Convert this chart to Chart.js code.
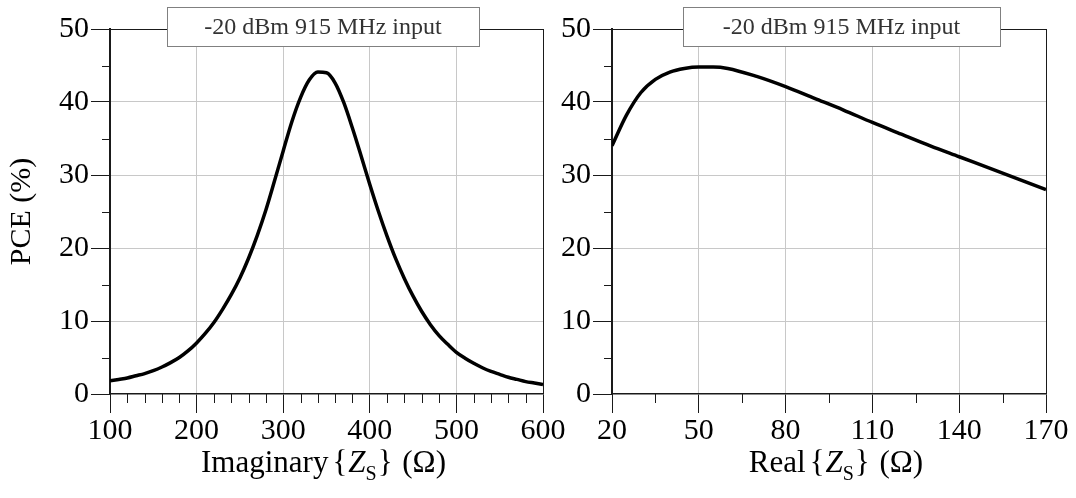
<!DOCTYPE html>
<html>
<head>
<meta charset="utf-8">
<script src="https://cdn.jsdelivr.net/npm/chart.js@4.4.1/dist/chart.umd.min.js"></script>
<style>
  html, body { margin: 0; padding: 0; background: #fff; }
  body { width: 1076px; height: 498px; position: relative; overflow: hidden; }
  canvas { position: absolute; top: 0; }
</style>
</head>
<body>
<canvas id="left" width="580" height="498" style="left:0px"></canvas>
<canvas id="right" width="516" height="498" style="left:560px"></canvas>
<script>
// ---------------- DATA ----------------
const imagX = [100,110,120,130,140,150,160,170,180,190,200,210,220,230,240,250,260,270,280,290,300,310,320,330,340,350,360,370,380,390,400,410,420,430,440,450,460,470,480,490,500,510,520,530,540,550,560,570,580,590,600];
const imagPCE = [1.8,2.0,2.2,2.5,2.8,3.2,3.7,4.3,5.0,5.9,7.0,8.3,9.8,11.6,13.6,15.9,18.6,21.7,25.2,29.2,33.3,37.3,40.6,43.0,44.1,44.0,42.6,39.9,36.4,32.6,28.7,25.0,21.6,18.5,15.8,13.4,11.3,9.5,8.0,6.8,5.7,4.9,4.2,3.6,3.1,2.7,2.3,2.0,1.7,1.5,1.3];

const realX = [20,25,30,35,40,45,50,55,60,70,80,90,100,110,120,130,140,150,160,170];
const realPCE = [34.0,38.2,41.3,43.1,44.1,44.6,44.8,44.8,44.6,43.5,42.1,40.5,38.9,37.2,35.6,34.0,32.5,31.0,29.5,28.0];

const yTicks = [0,10,20,30,40,50];
const imagTicks = [100,200,300,400,500,600];
const realTicks = [20,50,80,110,140,170];
const imagMinor = [120,140,160,180,220,240,260,280,320,340,360,380,420,440,460,480,520,540,560,580];
const realMinor = [35,65,95,125,155];
const yMinor = [5,15,25,35,45];

const boxTitle = '-20 dBm 915 MHz input';
const yTitle = 'PCE (%)';
const leftXTitle = ['Imaginary', 'Z', 'S', ' (Ω)'];
const rightXTitle = ['Real', 'Z', 'S', ' (Ω)'];

// ---------------- STYLE ----------------
const FONT = 'Liberation Serif';
const DARK = '#1a1a1a';
const GRID = '#c8c8c8';

function makeChart(canvasId, xs, ys, xTicks, minorX, xTitleParts, opts) {
  const xmin = xTicks[0], xmax = xTicks[xTicks.length - 1];
  const ymin = yTicks[0], ymax = yTicks[yTicks.length - 1];
  const step = xTicks[1] - xTicks[0];

  const decor = {
    id: 'decor',
    afterDraw(chart) {
      const ctx = chart.ctx;
      const xs_ = chart.scales.x, ys_ = chart.scales.y;
      const a = chart.chartArea;
      ctx.save();
      // minor ticks
      ctx.strokeStyle = DARK;
      ctx.lineWidth = 1;
      ctx.beginPath();
      yMinor.forEach(v => {
        const py = Math.round(ys_.getPixelForValue(v)) + 0.5;
        ctx.moveTo(a.left - 8, py); ctx.lineTo(a.left, py);
      });
      minorX.forEach(v => {
        const px = Math.round(xs_.getPixelForValue(v)) + 0.5;
        ctx.moveTo(px, a.bottom); ctx.lineTo(px, a.bottom + 9);
      });
      ctx.stroke();

      // title box
      const bx = opts.boxLeft, bw = opts.boxWidth, by = 7.5, bh = 39;
      ctx.fillStyle = '#fff';
      ctx.fillRect(bx, by, bw, bh);
      ctx.strokeStyle = '#808080';
      ctx.lineWidth = 1;
      ctx.strokeRect(bx + 0.5, by, bw, bh);
      ctx.fillStyle = '#333';
      ctx.font = '24px "' + FONT + '"';
      ctx.textAlign = 'center';
      ctx.textBaseline = 'middle';
      ctx.fillText(boxTitle, bx + bw / 2, by + bh / 2 + 1);

      // x axis title with subscript
      const parts = [
        { t: xTitleParts[0], f: '31px "' + FONT + '"', dy: 0, gap: 0 },
        { t: '{', f: '31px "' + FONT + '"', dy: 0, gap: 4 },
        { t: xTitleParts[1], f: 'italic 31px "' + FONT + '"', dy: 0, gap: 1 },
        { t: xTitleParts[2], f: '20px "' + FONT + '"', dy: 8, gap: 0 },
        { t: '}', f: '31px "' + FONT + '"', dy: 0, gap: 1 },
        { t: xTitleParts[3], f: '31px "' + FONT + '"', dy: 0, gap: 2 }
      ];
      let total = 0;
      parts.forEach(p => { ctx.font = p.f; p.w = ctx.measureText(p.t).width; total += p.w + p.gap; });
      let x = (a.left + a.right) / 2 + opts.titleShift - total / 2;
      const base = 472;
      ctx.fillStyle = '#000';
      ctx.textAlign = 'left';
      ctx.textBaseline = 'alphabetic';
      parts.forEach(p => { x += p.gap; ctx.font = p.f; ctx.fillText(p.t, x, base + p.dy); x += p.w; });
      ctx.restore();
    }
  };

  return new Chart(document.getElementById(canvasId), {
    type: 'line',
    data: {
      datasets: [{
        data: xs.map((v, i) => ({ x: v, y: ys[i] })),
        borderColor: '#000',
        borderWidth: 3.5,
        pointRadius: 0,
        fill: false,
        cubicInterpolationMode: 'monotone'
      }]
    },
    options: {
      responsive: false,
      animation: false,
      devicePixelRatio: 1,
      layout: { padding: { left: 0, top: 29, right: opts.padRight, bottom: 0 } },
      plugins: { legend: { display: false }, tooltip: { enabled: false } },
      scales: {
        x: {
          type: 'linear',
          min: xmin, max: xmax,
          afterFit(s) { s.height = 104; s.paddingLeft = 0; s.paddingRight = 0; },
          afterBuildTicks(s) { s.ticks = xTicks.map(v => ({ value: v })); },
          ticks: {
            stepSize: step,
            color: '#000',
            padding: 0,
            maxRotation: 0,
            autoSkip: false,
            font: { family: FONT, size: 30 },
            callback: v => String(v)
          },
          grid: {
            color: c => (c.tick && c.tick.value === xmax) ? DARK : (c.tick && c.tick.value === xmin ? 'rgba(0,0,0,0)' : GRID),
            lineWidth: 1,
            tickColor: DARK,
            tickLength: 19,
            drawTicks: true
          },
          border: { display: true, color: DARK, width: 1.5 },
          title: { display: false }
        },
        y: {
          type: 'linear',
          min: ymin, max: ymax,
          afterFit(s) { s.width = opts.yWidth; s.paddingTop = 0; s.paddingBottom = 0; },
          afterBuildTicks(s) { s.ticks = yTicks.map(v => ({ value: v })); },
          ticks: {
            stepSize: 10,
            color: '#000',
            padding: 2,
            font: { family: FONT, size: 30 },
            callback: v => String(v)
          },
          grid: {
            color: c => (c.tick && c.tick.value === ymax) ? DARK : (c.tick && c.tick.value === ymin ? 'rgba(0,0,0,0)' : GRID),
            lineWidth: 1,
            tickColor: DARK,
            tickLength: 19,
            drawTicks: true
          },
          border: { display: true, color: DARK, width: 2 },
          title: {
            display: opts.showYTitle,
            text: yTitle,
            color: '#000',
            font: { family: FONT, size: 30 },
            padding: { top: 4, bottom: 0 }
          }
        }
      }
    },
    plugins: [decor]
  });
}

makeChart('left', imagX, imagPCE, imagTicks, imagMinor, leftXTitle,
  { padRight: 37, yWidth: 110, showYTitle: true, boxLeft: 167, boxWidth: 312, titleShift: -3 });
makeChart('right', realX, realPCE, realTicks, realMinor, rightXTitle,
  { padRight: 30, yWidth: 52, showYTitle: false, boxLeft: 123, boxWidth: 317, titleShift: 7 });
</script>
</body>
</html>
